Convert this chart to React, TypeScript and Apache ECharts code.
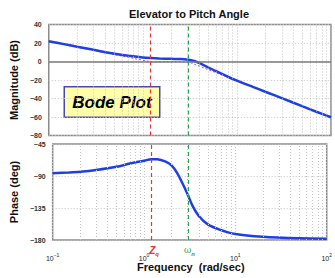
import React, { useEffect, useRef } from "react";
import * as echarts from "echarts";

// ---- data ----
const magFreq = [0.1, 0.15, 0.2, 0.3, 0.5, 0.7, 1, 1.2, 1.5, 2, 2.5, 3, 3.5, 4, 5, 6, 8, 10, 15, 20, 30, 50, 70, 100];
const magDb = [21.8, 18.5, 16.0, 12.6, 8.4, 6.2, 4.4, 3.8, 3.3, 2.9, 2.6, 1.9, 0.5, -1.8, -6.5, -10.5, -16.5, -20.7, -27.7, -32.7, -39.6, -48.5, -54.3, -60.3];
const asymFreq = [0.1, 1.21, 3.03, 100];
const asymDb = [21.5, -0.3, -0.3, -60.8];
const phFreq = [0.1, 0.15, 0.2, 0.3, 0.5, 0.7, 1, 1.2, 1.4, 1.7, 2, 2.3, 2.7, 3.03, 3.4, 4, 5, 6.6, 10, 20, 50, 100];
const phDeg = [-86, -85, -84, -81.5, -77, -72.5, -68.5, -66.3, -66.5, -69.5, -75, -85.5, -103, -117, -132, -146.5, -158, -165, -171.5, -175.5, -177.7, -178.3];
const zq = 1.21;
const wn = 3.03;
const magTicks = { min: -80, max: 40, step: 20 };
const phTicks = { min: -180, max: -45, step: 45 };
const minorGrid = [0.2, 0.3, 0.4, 0.5, 0.6, 0.7, 0.8, 0.9, 2, 3, 4, 5, 6, 7, 8, 9, 20, 30, 40, 50, 60, 70, 80, 90];

const FONT = "'Liberation Sans', Arial, Helvetica, sans-serif";
const BLUE = "#1f3fe3";
const RED = "#e8323c";
const GREEN = "#2f9e4f";
const GRIDC = "#c4c4c4";

const minus = (v: number) => String(v).replace("-", "\u2212");

export default function App() {
  const ref = useRef<HTMLDivElement>(null);
  useEffect(() => {
    if (!ref.current) return;
    const chart = echarts.init(ref.current, undefined, { renderer: "svg" });
    const gridBorder = { show: true, borderColor: "#8a8a8a", borderWidth: 1.5, backgroundColor: "#fff" };
    const dotted = { color: GRIDC, type: [1, 2] as any, width: 1 };
    const xBase = (gi: number, labels: boolean) => ({
      type: "log",
      logBase: 10,
      min: 0.1,
      max: 100,
      gridIndex: gi,
      axisLine: { show: false },
      axisTick: { show: false },
      splitLine: { show: true, lineStyle: dotted },
      axisLabel: labels
        ? {
            show: true,
            margin: 12,
            formatter: (v: number) => {
              const e = Math.round(Math.log10(v));
              return `{b|10}{s|${e < 0 ? "\u2212" + -e : e}}`;
            },
            rich: {
              b: { fontSize: 7, fontFamily: FONT, color: "#222", verticalAlign: "bottom", lineHeight: 10 },
              s: { fontSize: 5, fontFamily: FONT, color: "#222", verticalAlign: "top", lineHeight: 10 },
            },
          }
        : { show: false },
    });
    const yBase = (gi: number, t: { min: number; max: number; step: number }, name: string) => ({
      type: "value",
      gridIndex: gi,
      min: t.min,
      max: t.max,
      interval: t.step,
      name,
      nameLocation: "middle",
      nameGap: 27,
      nameRotate: 90,
      nameTextStyle: { fontFamily: FONT, fontWeight: "bold", fontSize: 11, color: "#111" },
      axisLine: { show: false },
      axisTick: { show: false },
      splitLine: { show: true, lineStyle: dotted },
      axisLabel: {
        fontFamily: FONT,
        fontWeight: "bold",
        fontSize: 7,
        color: "#333",
        margin: 7,
        formatter: (v: number) => minus(v),
      },
    });
    const vLine = (x: number, color: string, label: any) => ({
      xAxis: x,
      lineStyle: { color, type: [4, 3] as any, width: 1.2 },
      label,
    });
    const gridMarks = minorGrid.map((x) => ({ xAxis: x, lineStyle: dotted, label: { show: false } }));

    chart.setOption({
      animation: false,
      title: {
        text: "Elevator to Pitch Angle",
        left: 124,
        top: 3,
        textStyle: { fontFamily: FONT, fontWeight: "bold", fontSize: 11, color: "#111" },
      },
      grid: [
        { left: 48.5, top: 24.5, width: 282.5, height: 111, ...gridBorder },
        { left: 48.5, top: 144, width: 282.5, height: 96, ...gridBorder },
      ],
      xAxis: [xBase(0, false), xBase(1, true)],
      yAxis: [yBase(0, magTicks, "Magnitude (dB)"), yBase(1, phTicks, "Phase (deg)")],
      series: [
        {
          type: "line",
          xAxisIndex: 0,
          yAxisIndex: 0,
          data: [[0.1, 0]],
          symbol: "none",
          lineStyle: { opacity: 0 },
          z: 1,
          silent: true,
          markLine: { silent: true, symbol: "none", animation: false, data: gridMarks },
        },
        {
          type: "line",
          xAxisIndex: 1,
          yAxisIndex: 1,
          data: [[0.1, -90]],
          symbol: "none",
          lineStyle: { opacity: 0 },
          z: 1,
          silent: true,
          markLine: { silent: true, symbol: "none", animation: false, data: gridMarks },
        },
        {
          type: "line",
          xAxisIndex: 0,
          yAxisIndex: 0,
          data: asymFreq.map((f, i) => [f, asymDb[i]]),
          symbol: "none",
          lineStyle: { color: "#a055c8", width: 1, type: [2, 2] as any },
          z: 2,
          markLine: {
            silent: true,
            symbol: "none",
            animation: false,
            data: [
              { yAxis: 0, lineStyle: { color: "#7a7a7a", width: 1.5, type: "solid" }, label: { show: false } },
              vLine(zq, RED, { show: false }),
              vLine(wn, GREEN, { show: false }),
            ],
          },
        },
        {
          type: "line",
          xAxisIndex: 0,
          yAxisIndex: 0,
          data: magFreq.map((f, i) => [f, magDb[i]]),
          symbol: "none",
          smooth: 0.3,
          lineStyle: { color: BLUE, width: 2.5 },
          z: 3,
        },
        {
          type: "line",
          xAxisIndex: 1,
          yAxisIndex: 1,
          data: phFreq.map((f, i) => [f, phDeg[i]]),
          symbol: "none",
          smooth: 0.3,
          lineStyle: { color: BLUE, width: 2.5 },
          z: 3,
          markLine: {
            silent: true,
            symbol: "none",
            animation: false,
            data: [
              vLine(zq, RED, {
                show: true,
                position: "start",
                distance: 5,
                padding: [0, 0, 0, 5],
                formatter: "{m|Z}{s|q}",
                rich: {
                  m: { fontSize: 10, fontWeight: "bold", fontStyle: "italic", color: RED, fontFamily: FONT, verticalAlign: "top", lineHeight: 12 },
                  s: { fontSize: 6, fontWeight: "bold", fontStyle: "italic", color: RED, fontFamily: FONT, verticalAlign: "bottom", lineHeight: 12 },
                },
              }),
              vLine(wn, GREEN, {
                show: true,
                position: "start",
                distance: 5,
                padding: [0, 0, 0, 3],
                formatter: "{m|\u03c9}{s|n}",
                rich: {
                  m: { fontSize: 9, color: GREEN, fontFamily: "'DejaVu Serif', serif", verticalAlign: "top", lineHeight: 12 },
                  s: { fontSize: 6, fontWeight: "bold", fontStyle: "italic", color: GREEN, fontFamily: FONT, verticalAlign: "bottom", lineHeight: 12 },
                },
              }),
            ],
          },
        },
      ],
      graphic: [
        {
          type: "group",
          left: 63.5,
          top: 86,
          z: 10,
          children: [
            {
              type: "rect",
              shape: { x: 0, y: 0, width: 95.5, height: 30.5 },
              style: { fill: "#ffffaa", stroke: "#4a4aa8", lineWidth: 1.5 },
            },
            {
              type: "text",
              x: 47.75,
              y: 15.5,
              style: {
                text: "Bode Plot",
                fill: "#000",
                font: `italic bold 17px ${FONT}`,
                align: "center",
                verticalAlign: "middle",
              },
            },
          ],
        },
        {
          type: "text",
          left: 137,
          top: 261,
          style: { text: "Frequency  (rad/sec)", fill: "#111", font: `bold 11px ${FONT}` },
        },
      ],
    });
    return () => chart.dispose();
  }, []);
  return (
    <div
      ref={ref}
      style={{ position: "fixed", left: 0, top: 0, width: 335, height: 278, background: "#fff" }}
    />
  );
}
